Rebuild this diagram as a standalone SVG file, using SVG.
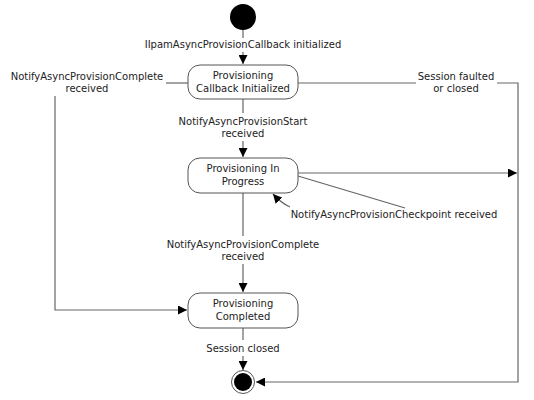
<svg xmlns="http://www.w3.org/2000/svg" width="534" height="400" viewBox="0 0 534 400">
<defs>
<marker id="arr" viewBox="0 0 10 10" refX="10" refY="5" markerWidth="9" markerHeight="9" markerUnits="userSpaceOnUse" orient="auto">
<path d="M0,0 L10,5 L0,10 Z" fill="#000"/>
</marker>
</defs>
<style>
.t{font-family:"DejaVu Sans",Verdana,sans-serif;font-size:10px;fill:#222;text-anchor:middle}
.st{fill:#fff;stroke:#555;stroke-width:1}
.c{fill:none;stroke:#666;stroke-width:1.2}
</style>
<rect width="534" height="400" fill="#fff"/>
<g id="connectors">
<path class="c" d="M243,30 V38 M243,52 V64" marker-end="url(#arr)"/>
<path class="c" d="M243,99 V113 M243,141 V157" marker-end="url(#arr)"/>
<path class="c" d="M188,83 H166"/>
<path class="c" d="M55,96 V310 H187" marker-end="url(#arr)"/>
<path class="c" d="M298,83 H416"/>
<path class="c" d="M497,83 H518 V382 H256" marker-end="url(#arr)"/>
<path class="c" d="M298,173 H517" marker-end="url(#arr)"/>
<path class="c" d="M298,176 L405,208"/>
<path class="c" d="M290,207 Q281,203 273,194" marker-end="url(#arr)"/>
<path class="c" d="M243,193 V236 M243,264 V292" marker-end="url(#arr)"/>
<path class="c" d="M243,328 V340 M243,356 V370" marker-end="url(#arr)"/>
</g>
<g id="start"><circle cx="243" cy="17" r="13" fill="#000"/></g>
<g id="callbackInitialized">
<rect class="st" x="188" y="65" width="110" height="34" rx="12"/>
<text class="t" x="243" y="79">Provisioning</text>
<text class="t" x="243" y="92">Callback Initialized</text>
</g>
<g id="inProgress">
<rect class="st" x="188" y="158" width="110" height="35" rx="12"/>
<text class="t" x="243" y="172">Provisioning In</text>
<text class="t" x="243" y="185">Progress</text>
</g>
<g id="completed">
<rect class="st" x="188" y="293" width="110" height="35" rx="12"/>
<text class="t" x="243" y="307">Provisioning</text>
<text class="t" x="243" y="320">Completed</text>
</g>
<g id="end">
<circle cx="243" cy="382" r="11.5" fill="#fff" stroke="#555" stroke-width="1"/>
<circle cx="243" cy="382" r="9" fill="#000"/>
</g>
<g id="labels">
<text class="t" x="243" y="48">IIpamAsyncProvisionCallback initialized</text>
<text class="t" x="87" y="80">NotifyAsyncProvisionComplete</text>
<text class="t" x="87" y="92">received</text>
<text class="t" x="456" y="80">Session faulted</text>
<text class="t" x="456" y="92">or closed</text>
<text class="t" x="243" y="125">NotifyAsyncProvisionStart</text>
<text class="t" x="243" y="137">received</text>
<text class="t" x="394" y="218">NotifyAsyncProvisionCheckpoint received</text>
<text class="t" x="243" y="248">NotifyAsyncProvisionComplete</text>
<text class="t" x="243" y="260">received</text>
<text class="t" x="243" y="352">Session closed</text>
</g>
</svg>
